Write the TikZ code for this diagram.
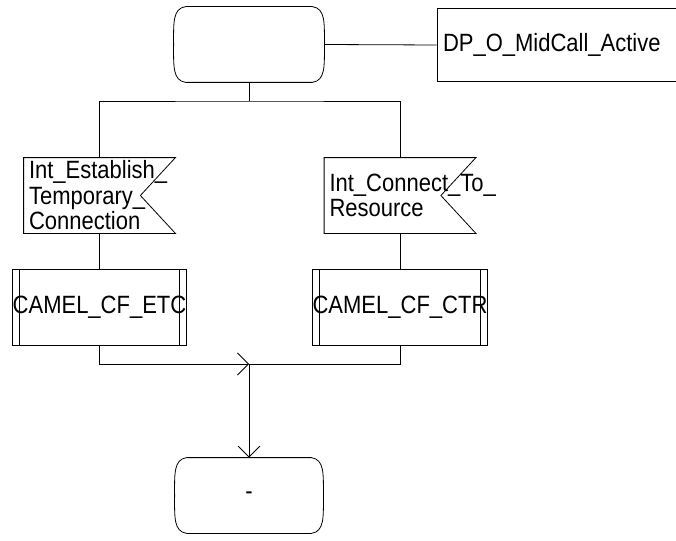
\documentclass[tikz,border=0pt]{standalone}
\usepackage{fontspec}
\setmainfont[FakeStretch=0.88]{Liberation Sans}
\usetikzlibrary{arrows.meta,calc}
\newcommand\sdlstatepath[1]{%
  \draw ([xshift=12pt]#1.north west) -- ([xshift=-12pt]#1.north east)
    .. controls ([xshift=1pt,yshift=-2pt]#1.north east) and ([yshift=-16pt]#1.north east) .. (#1.east)
    .. controls ([yshift=16pt]#1.south east) and ([xshift=1pt,yshift=2pt]#1.south east) .. ([xshift=-12pt]#1.south east)
    -- ([xshift=12pt]#1.south west)
    .. controls ([xshift=-1pt,yshift=2pt]#1.south west) and ([yshift=16pt]#1.south west) .. (#1.west)
    .. controls ([yshift=-16pt]#1.north west) and ([xshift=-1pt,yshift=-2pt]#1.north west) .. ([xshift=12pt]#1.north west) -- cycle;}
\newcommand\sdlinputpath[1]{%
  \draw (#1.north west) -- (#1.north east) -- ([xshift=-35pt]#1.east) -- (#1.south east) -- (#1.south west) -- cycle;}
\newcommand\sdlprocpath[1]{%
  \draw (#1.north west) rectangle (#1.south east);
  \draw ([xshift=7pt]#1.north west) -- ([xshift=7pt]#1.south west);
  \draw ([xshift=-7pt]#1.north east) -- ([xshift=-7pt]#1.south east);}
\begin{document}
\begin{tikzpicture}[x=1pt,y=-1pt, line width=0.8pt,
  every node/.style={font=\fontsize{25}{25.5}\selectfont, inner sep=0pt},
  statebox/.style={minimum width=#1, minimum height=75pt},
  statebox/.default=150pt,
  sigbox/.style={minimum width=151pt, minimum height=75pt, text width=141pt, inner xsep=5pt, align=left},
  procbox/.style={minimum width=151pt, minimum height=75pt},
  dpbox/.style={draw, minimum width=253pt, minimum height=73pt, text width=241pt, inner xsep=6pt, align=left},
  arr/.style={-{Straight Barb[length=11pt,width=22pt,line width=0.8pt]}}
]
\useasboundingbox (0,0) rectangle (676,540);
\clip (0,0) rectangle (676,540);
\node[statebox] (s1) at (249,44.5) {};
\node[dpbox] (dp) at (563.5,45) {DP\_O\_MidCall\_Active};
\node[sigbox] (sig1) at (99.5,195.5) {Int\_Establish\_\\Temporary\_\\Connection};
\node[sigbox] (sig2) at (400,195.5) {Int\_Connect\_To\_\\Resource};
\node[procbox] (p1) at (99.5,307.5) {CAMEL\_CF\_ETC};
\node[procbox] (p2) at (400,307.5) {CAMEL\_CF\_CTR};
\node[statebox=148pt] (s2) at (249,495.5) {-};
\coordinate (j) at (249,101);
\coordinate (m) at (249,364);
\sdlstatepath{s1}
\sdlstatepath{s2}
\sdlinputpath{sig1}
\sdlinputpath{sig2}
\sdlprocpath{p1}
\sdlprocpath{p2}
\draw (s1.east) -- (dp.west);
\draw (s1.south) -- (j);
\draw (sig1.north) |- (j) -| (sig2.north);
\draw (sig1.south) -- (p1.north);
\draw (sig2.south) -- (p2.north);
\draw[arr] (p1.south) |- (m);
\draw (p2.south) |- (m);
\draw[arr] (m) -- (s2.north);
\end{tikzpicture}
\end{document}
